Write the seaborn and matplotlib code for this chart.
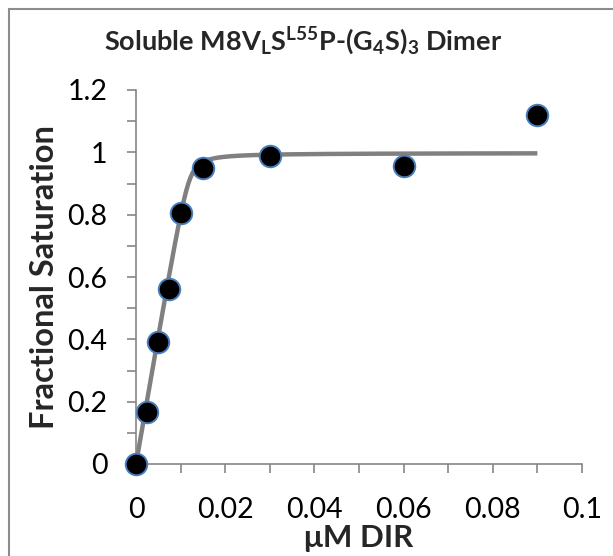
import numpy as np
import pandas as pd
import matplotlib
matplotlib.use("Agg")
import matplotlib.pyplot as plt
from matplotlib.patches import Rectangle
import seaborn as sns

# Titration data: ligand concentration (uM) vs fractional saturation
conc_uM = [0.0, 0.0025, 0.005, 0.0075, 0.01, 0.015, 0.03, 0.06, 0.09]
frac_sat = [0.0, 0.166, 0.390, 0.560, 0.804, 0.951, 0.989, 0.956, 1.12]

# Tight-binding (quadratic) fit parameters
fit_bmax = 0.998
fit_ptot = 0.012   # uM binding sites
fit_kd = 0.0001    # uM
fit_xmax = 0.09

x_ticks = [0.00, 0.01, 0.02, 0.03, 0.04, 0.05, 0.06, 0.07, 0.08, 0.09, 0.10]
x_ticklabels = ["0", "", "0.02", "", "0.04", "", "0.06", "", "0.08", "", "0.1"]
y_ticks = [0.0, 0.1, 0.2, 0.3, 0.4, 0.5, 0.6, 0.7, 0.8, 0.9, 1.0, 1.1, 1.2]
y_ticklabels = ["0", "", "0.2", "", "0.4", "", "0.6", "", "0.8", "", "1", "", "1.2"]

sns.set_theme(style="white")
plt.rcParams["font.family"] = ["Lato", "DejaVu Sans"]
plt.rcParams["mathtext.fontset"] = "custom"
plt.rcParams["mathtext.rm"] = "Lato:bold"
plt.rcParams["mathtext.it"] = "Lato:bold"
plt.rcParams["mathtext.bf"] = "Lato:bold"

def quad_binding(L):
    s = fit_ptot + L + fit_kd
    return fit_bmax * (s - np.sqrt(s * s - 4 * fit_ptot * L)) / (2 * fit_ptot)

xfit = np.linspace(0, fit_xmax, 400)
fit_df = pd.DataFrame({"x": xfit, "y": quad_binding(xfit)})
pts_df = pd.DataFrame({"x": conc_uM, "y": frac_sat})

fig = plt.figure(figsize=(6.13, 5.56), dpi=100)
ax = fig.add_axes([136 / 613, 1 - 464 / 556, (582 - 136) / 613, (464 - 90) / 556])

axis_gray = "#868686"
sns.lineplot(data=fit_df, x="x", y="y", ax=ax, color="#808080", lw=3.2,
             solid_capstyle="butt", zorder=2)
sns.scatterplot(data=pts_df, x="x", y="y", ax=ax, s=240, color="black",
                edgecolor="#4a7ebb", linewidth=1.4, zorder=3, clip_on=False)

ax.set_xlim(0, 0.1)
ax.set_ylim(0, 1.2)
ax.set_xticks(x_ticks)
ax.set_xticklabels(x_ticklabels)
ax.set_yticks(y_ticks)
ax.set_yticklabels(y_ticklabels)
ax.tick_params(axis="both", which="major", direction="out", length=6.5,
               width=1.2, color=axis_gray, labelsize=20.5, labelcolor="black")
ax.tick_params(axis="x", bottom=True, pad=17)
ax.tick_params(axis="y", left=True, pad=14)
for side in ["top", "right"]:
    ax.spines[side].set_visible(False)
for side in ["left", "bottom"]:
    ax.spines[side].set_color(axis_gray)
    ax.spines[side].set_linewidth(1.2)

ax.set_xlabel("μM DIR", fontsize=22.5, fontweight="bold", labelpad=1)
ax.set_ylabel("Fractional Saturation", fontsize=23.5, fontweight="bold", labelpad=6)

fig.text(0.495, 1 - 50 / 556,
         r"Soluble M8V$_\mathrm{L}$S$^\mathrm{L55}$P-(G$_4$S)$_3$ Dimer",
         ha="center", va="baseline", fontsize=19.5, fontweight="bold")

# chart-area frame
fig.patches.append(Rectangle((9 / 613, -0.1), 1.2, 1 - 9 / 556 + 0.1,
                             transform=fig.transFigure, fill=False,
                             edgecolor="#8c8c8c", linewidth=1.5))

fig.savefig("out.png", dpi=100)
